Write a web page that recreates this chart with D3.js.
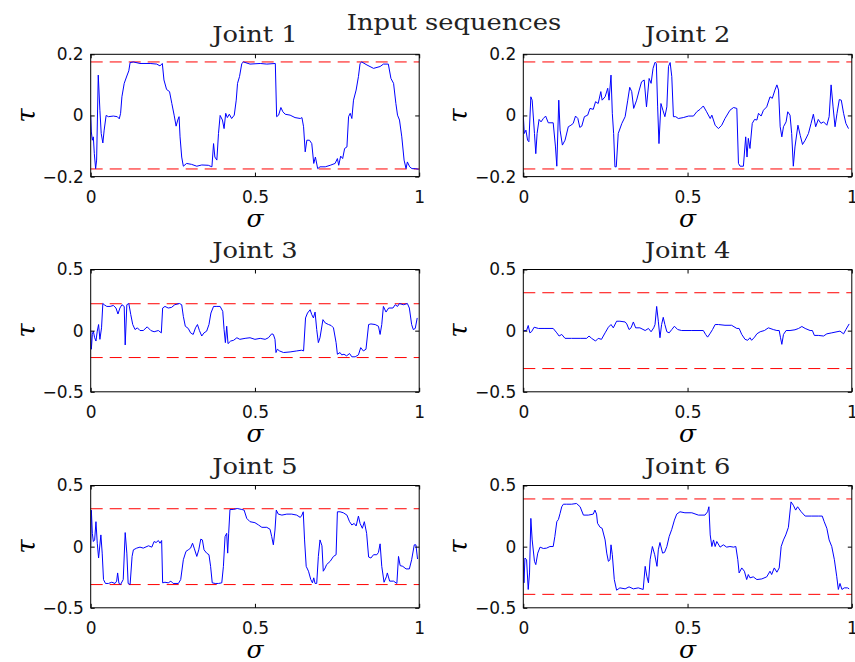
<!DOCTYPE html>
<html>
<head>
<meta charset="utf-8">
<script src="https://cdn.jsdelivr.net/npm/d3@7"></script>
<style>
  body { margin: 0; background: #fff; }
  svg { display: block; }
</style>
</head>
<body>
<svg id="chart"></svg>
<script>
// sampled input torque sequences, [sigma, tau]
const joint1 = [[0,0],[0.002,-0.054],[0.005,-0.081],[0.008,-0.07],[0.011,-0.125],[0.015,-0.174],[0.018,-0.146],[0.023,0.132],[0.028,0.017],[0.032,-0.059],[0.037,-0.09],[0.041,-0.048],[0.047,0],[0.054,-0.004],[0.069,-0.002],[0.081,-0.004],[0.087,-0.011],[0.091,0.007],[0.095,0.061],[0.102,0.105],[0.11,0.129],[0.116,0.146],[0.12,0.173],[0.13,0.175],[0.15,0.17],[0.181,0.17],[0.201,0.168],[0.211,0.162],[0.218,0.17],[0.223,0.116],[0.231,0.085],[0.24,0.078],[0.247,0.039],[0.254,0.001],[0.26,-0.035],[0.265,-0.015],[0.269,-0.004],[0.272,-0.07],[0.277,-0.136],[0.282,-0.166],[0.292,-0.157],[0.307,-0.16],[0.323,-0.166],[0.338,-0.162],[0.358,-0.163],[0.369,-0.168],[0.374,-0.092],[0.378,-0.136],[0.384,-0.146],[0.389,-0.059],[0.394,0],[0.401,-0.015],[0.406,-0.043],[0.411,0.007],[0.416,-0.007],[0.422,0.004],[0.429,-0.01],[0.437,0.001],[0.443,0.05],[0.447,0.105],[0.453,0.127],[0.46,0.17],[0.465,0.175],[0.485,0.168],[0.516,0.17],[0.536,0.168],[0.562,0.17],[0.566,-0.004],[0.572,0.001],[0.579,0.026],[0.585,0.012],[0.592,0.004],[0.607,0.001],[0.622,-0.007],[0.638,-0.01],[0.643,-0.007],[0.648,-0.037],[0.653,-0.119],[0.658,-0.081],[0.666,-0.081],[0.673,-0.092],[0.679,-0.157],[0.684,-0.136],[0.691,-0.174],[0.698,-0.168],[0.714,-0.168],[0.729,-0.163],[0.744,-0.157],[0.751,-0.141],[0.755,-0.163],[0.761,-0.133],[0.767,-0.141],[0.773,-0.108],[0.78,-0.103],[0.785,-0.004],[0.79,0.007],[0.795,-0.01],[0.8,0.05],[0.808,0.083],[0.815,0.127],[0.82,0.17],[0.825,0.175],[0.841,0.165],[0.861,0.154],[0.881,0.16],[0.891,0.168],[0.906,0.168],[0.914,0.121],[0.922,0.105],[0.929,0.039],[0.934,0.001],[0.94,-0.015],[0.947,-0.07],[0.954,-0.146],[0.96,-0.174],[0.964,-0.152],[0.971,-0.168],[0.978,-0.174],[0.988,-0.174],[0.998,-0.176]];

const joint2 = [[0,0],[0.003,-0.059],[0.008,-0.048],[0.013,-0.081],[0.017,-0.086],[0.023,0.061],[0.027,0.05],[0.034,-0.059],[0.038,-0.125],[0.042,-0.059],[0.048,-0.013],[0.054,-0.021],[0.061,-0.01],[0.068,-0.002],[0.076,-0.024],[0.091,-0.024],[0.098,-0.103],[0.102,-0.166],[0.108,0.05],[0.112,-0.048],[0.119,-0.097],[0.127,-0.081],[0.137,-0.037],[0.145,-0.032],[0.152,-0.026],[0.159,-0.002],[0.166,-0.01],[0.172,-0.039],[0.178,-0.035],[0.186,-0.004],[0.196,0.001],[0.203,0.023],[0.213,0.02],[0.22,0.045],[0.228,0.039],[0.236,0.078],[0.24,0.05],[0.249,0.061],[0.257,0.089],[0.261,0.05],[0.267,0.132],[0.271,0.007],[0.275,-0.059],[0.279,-0.168],[0.283,-0.168],[0.289,-0.059],[0.3,-0.026],[0.31,-0.004],[0.318,0.05],[0.324,0.092],[0.33,0.078],[0.336,0.023],[0.345,0.05],[0.353,0.083],[0.36,0.11],[0.368,0.116],[0.375,0.028],[0.383,0.121],[0.389,0.105],[0.395,0.154],[0.401,0.174],[0.405,0.17],[0.409,0.028],[0.413,-0.092],[0.419,0.039],[0.425,0.017],[0.431,-0.004],[0.437,0.028],[0.442,0.16],[0.447,0.173],[0.452,0.127],[0.457,-0.004],[0.464,-0.004],[0.472,-0.01],[0.487,-0.007],[0.503,-0.002],[0.518,-0.002],[0.528,0.012],[0.538,0.02],[0.548,0.031],[0.558,0.012],[0.569,-0.01],[0.574,0.001],[0.584,-0.032],[0.594,-0.043],[0.604,-0.032],[0.614,-0.01],[0.629,0.017],[0.64,0.026],[0.65,0.023],[0.655,-0.157],[0.66,-0.166],[0.67,-0.166],[0.677,-0.07],[0.681,-0.136],[0.685,-0.075],[0.69,-0.108],[0.697,-0.026],[0.704,-0.013],[0.711,-0.015],[0.716,0.007],[0.724,-0.002],[0.731,0.017],[0.741,0.028],[0.751,0.061],[0.758,0.056],[0.766,0.083],[0.772,0.1],[0.777,0.083],[0.782,-0.037],[0.787,-0.07],[0.792,-0.037],[0.8,-0.021],[0.805,0.012],[0.812,0.001],[0.817,-0.059],[0.822,-0.166],[0.827,-0.103],[0.836,-0.032],[0.843,-0.065],[0.85,-0.095],[0.858,-0.081],[0.868,-0.059],[0.876,-0.026],[0.883,0.004],[0.89,-0.037],[0.898,-0.013],[0.906,-0.026],[0.914,-0.021],[0.924,-0.032],[0.931,-0.004],[0.937,0.1],[0.943,0.028],[0.949,-0.037],[0.955,0.007],[0.962,0.052],[0.968,0.05],[0.975,0.007],[0.982,-0.026],[0.99,-0.043]];

const joint3 = [[0,0],[0.002,-0.152],[0.005,-0.031],[0.008,-0.004],[0.012,-0.058],[0.016,-0.085],[0.02,-0.004],[0.024,0.05],[0.028,-0.071],[0.033,0.023],[0.037,0.222],[0.041,0.212],[0.049,0.198],[0.059,0.198],[0.069,0.206],[0.077,0.185],[0.083,0.136],[0.089,0.185],[0.095,0.212],[0.102,0.198],[0.105,-0.117],[0.11,0.212],[0.116,0.222],[0.122,0.131],[0.128,0.05],[0.135,0.009],[0.142,0.023],[0.15,0.001],[0.16,0.001],[0.172,0.031],[0.183,0.001],[0.193,-0.009],[0.206,0.001],[0.215,-0.018],[0.219,0.185],[0.226,0.198],[0.236,0.185],[0.246,0.19],[0.256,0.212],[0.27,0.222],[0.277,0.212],[0.282,0.117],[0.288,0.036],[0.297,0.018],[0.304,-0.018],[0.312,-0.031],[0.319,0.023],[0.325,0.05],[0.331,0.001],[0.338,-0.044],[0.345,-0.018],[0.353,-0.004],[0.36,0.05],[0.366,0.144],[0.374,0.198],[0.384,0.198],[0.394,0.198],[0.402,0.158],[0.406,0.009],[0.41,-0.098],[0.414,0.036],[0.418,-0.106],[0.426,-0.085],[0.435,-0.079],[0.445,-0.058],[0.454,-0.071],[0.47,-0.063],[0.485,-0.058],[0.5,-0.071],[0.516,-0.063],[0.531,-0.071],[0.541,-0.058],[0.551,-0.026],[0.556,-0.031],[0.561,-0.071],[0.564,-0.179],[0.568,-0.152],[0.575,-0.166],[0.587,-0.179],[0.607,-0.174],[0.627,-0.166],[0.642,-0.16],[0.648,-0.166],[0.654,0.104],[0.66,0.144],[0.668,0.171],[0.673,0.131],[0.678,0.104],[0.683,0.152],[0.688,0.009],[0.693,-0.098],[0.698,-0.058],[0.707,0.09],[0.714,0.063],[0.724,0.05],[0.732,0.042],[0.739,0.023],[0.747,-0.098],[0.751,-0.193],[0.759,-0.179],[0.764,-0.198],[0.771,-0.193],[0.779,-0.206],[0.788,-0.187],[0.795,-0.214],[0.805,-0.214],[0.815,-0.198],[0.822,-0.139],[0.83,-0.166],[0.838,-0.152],[0.846,0.05],[0.853,0.055],[0.866,0.05],[0.876,0.036],[0.881,-0.031],[0.886,0.05],[0.891,0.198],[0.899,0.152],[0.907,0.185],[0.92,0.185],[0.927,0.212],[0.934,0.198],[0.94,0.222],[0.952,0.212],[0.964,0.222],[0.97,0.185],[0.977,0.05],[0.982,0.009],[0.988,0.018],[0.994,0.104]];

const joint4 = [[0,0],[0.01,0.001],[0.015,0.042],[0.02,-0.018],[0.025,-0.009],[0.033,0.028],[0.046,0.018],[0.066,0.018],[0.091,0.018],[0.102,-0.018],[0.109,-0.044],[0.117,-0.031],[0.127,-0.063],[0.147,-0.063],[0.173,-0.063],[0.193,-0.063],[0.2,-0.044],[0.208,-0.063],[0.22,-0.085],[0.228,-0.063],[0.238,-0.071],[0.249,-0.018],[0.259,0.028],[0.267,0.05],[0.274,0.023],[0.284,0.077],[0.294,0.077],[0.31,0.071],[0.315,0.055],[0.322,0.009],[0.328,0.023],[0.335,0.071],[0.342,0.023],[0.355,0.023],[0.371,0.001],[0.381,0.018],[0.389,-0.009],[0.397,0.023],[0.401,0.05],[0.406,0.198],[0.411,0.077],[0.416,-0.058],[0.421,0.05],[0.426,0.109],[0.431,0.05],[0.437,-0.009],[0.444,-0.018],[0.452,0.009],[0.46,0.036],[0.47,0.009],[0.482,0.001],[0.513,0.001],[0.548,0.001],[0.555,-0.031],[0.561,-0.053],[0.568,-0.026],[0.576,0.009],[0.584,0.05],[0.594,0.05],[0.614,0.044],[0.634,0.044],[0.65,0.018],[0.657,0.018],[0.665,-0.031],[0.675,-0.071],[0.683,-0.079],[0.69,-0.058],[0.695,-0.079],[0.704,-0.053],[0.711,-0.026],[0.721,-0.009],[0.734,0.001],[0.746,0.023],[0.761,0.009],[0.772,0.001],[0.779,0.001],[0.783,-0.058],[0.787,-0.112],[0.792,-0.031],[0.8,0.001],[0.812,0.001],[0.827,0.007],[0.838,0.018],[0.848,0.034],[0.858,0.018],[0.873,0.001],[0.88,0.001],[0.886,-0.039],[0.898,-0.039],[0.914,-0.044],[0.924,-0.026],[0.939,-0.018],[0.964,-0.004],[0.975,-0.026],[0.982,0.009],[0.992,0.055]];

const joint5 = [[0,0],[0.002,0.298],[0.005,0.109],[0.008,0.042],[0.012,0.055],[0.016,0.204],[0.02,0.028],[0.024,-0.093],[0.031,0.096],[0.035,-0.053],[0.039,-0.269],[0.045,-0.301],[0.054,-0.301],[0.064,-0.291],[0.074,-0.301],[0.079,-0.282],[0.082,-0.215],[0.086,-0.301],[0.091,-0.309],[0.099,-0.269],[0.105,0.115],[0.11,-0.053],[0.114,-0.301],[0.12,-0.309],[0.126,-0.08],[0.13,-0.026],[0.14,-0.012],[0.15,-0.004],[0.16,-0.012],[0.176,0.007],[0.186,-0.004],[0.193,0.042],[0.199,0.034],[0.206,0.05],[0.211,0.028],[0.216,0.05],[0.219,-0.296],[0.226,-0.291],[0.236,-0.296],[0.244,-0.282],[0.251,-0.301],[0.267,-0.301],[0.274,-0.269],[0.282,-0.107],[0.29,-0.039],[0.297,-0.026],[0.304,-0.012],[0.31,0.028],[0.315,-0.012],[0.323,-0.08],[0.329,-0.026],[0.335,0.061],[0.34,0.055],[0.345,-0.026],[0.353,-0.053],[0.36,-0.066],[0.365,-0.161],[0.37,-0.296],[0.379,-0.301],[0.389,-0.301],[0.399,-0.296],[0.404,-0.161],[0.409,0.082],[0.414,0.109],[0.417,-0.053],[0.42,0.109],[0.424,0.304],[0.434,0.304],[0.446,0.312],[0.46,0.304],[0.467,0.299],[0.475,0.231],[0.485,0.204],[0.5,0.196],[0.511,0.177],[0.521,0.158],[0.536,0.158],[0.546,0.142],[0.551,0.082],[0.556,0.015],[0.561,0.136],[0.565,0.299],[0.571,0.266],[0.582,0.258],[0.597,0.266],[0.612,0.266],[0.627,0.258],[0.638,0.239],[0.643,0.258],[0.647,0.285],[0.651,0.055],[0.656,-0.161],[0.663,-0.201],[0.67,-0.269],[0.675,-0.296],[0.679,-0.255],[0.683,-0.301],[0.688,-0.301],[0.693,-0.08],[0.698,0.055],[0.704,0.007],[0.708,-0.201],[0.714,-0.174],[0.718,-0.147],[0.729,-0.12],[0.739,-0.08],[0.747,-0.066],[0.751,0.285],[0.759,0.285],[0.769,0.277],[0.78,0.258],[0.788,0.204],[0.795,0.177],[0.802,0.19],[0.808,0.169],[0.815,0.25],[0.82,0.19],[0.827,0.15],[0.833,0.204],[0.84,0.109],[0.846,-0.085],[0.853,-0.093],[0.861,-0.066],[0.871,-0.066],[0.876,-0.047],[0.881,0.023],[0.886,-0.161],[0.893,-0.291],[0.9,-0.247],[0.903,-0.215],[0.91,-0.282],[0.922,-0.282],[0.932,-0.301],[0.937,-0.08],[0.942,-0.155],[0.95,-0.161],[0.96,-0.182],[0.97,-0.182],[0.977,-0.107],[0.985,0.015],[0.99,0.015],[0.995,-0.101]];

const joint6 = [[0,0],[0.002,-0.296],[0.005,-0.093],[0.01,-0.107],[0.015,-0.35],[0.019,-0.215],[0.023,0.231],[0.027,0.055],[0.034,-0.12],[0.038,-0.147],[0.044,-0.053],[0.051,-0.004],[0.061,-0.015],[0.071,-0.012],[0.081,0.001],[0.091,0.001],[0.096,0.082],[0.102,0.204],[0.107,0.223],[0.112,0.272],[0.117,0.326],[0.122,0.347],[0.132,0.347],[0.147,0.347],[0.162,0.353],[0.173,0.326],[0.183,0.258],[0.198,0.258],[0.213,0.266],[0.218,0.299],[0.223,0.266],[0.226,0.191],[0.234,0.158],[0.24,0.15],[0.249,0.055],[0.254,-0.053],[0.259,-0.12],[0.264,-0.107],[0.267,0.015],[0.271,-0.066],[0.277,-0.269],[0.284,-0.356],[0.294,-0.337],[0.31,-0.345],[0.322,-0.329],[0.335,-0.345],[0.35,-0.337],[0.365,-0.35],[0.371,-0.161],[0.376,-0.242],[0.381,-0.296],[0.386,-0.107],[0.393,0.001],[0.4,-0.066],[0.407,-0.161],[0.411,-0.026],[0.416,0.034],[0.424,-0.053],[0.43,-0.047],[0.437,0.001],[0.444,0.082],[0.452,0.142],[0.46,0.217],[0.467,0.266],[0.477,0.285],[0.492,0.277],[0.513,0.277],[0.533,0.258],[0.553,0.258],[0.561,0.285],[0.565,0.326],[0.569,0.096],[0.574,0.001],[0.579,0.055],[0.584,0.001],[0.589,0.042],[0.599,-0.004],[0.609,0.015],[0.619,-0.004],[0.629,0.001],[0.64,-0.004],[0.647,0.001],[0.653,-0.107],[0.657,-0.215],[0.665,-0.174],[0.673,-0.201],[0.68,-0.269],[0.685,-0.228],[0.69,-0.255],[0.7,-0.247],[0.711,-0.269],[0.726,-0.264],[0.741,-0.247],[0.751,-0.201],[0.756,-0.228],[0.764,-0.174],[0.772,-0.209],[0.779,-0.174],[0.785,0.001],[0.792,0.055],[0.799,0.096],[0.807,0.158],[0.815,0.366],[0.822,0.339],[0.829,0.299],[0.835,0.326],[0.846,0.285],[0.858,0.25],[0.878,0.25],[0.898,0.25],[0.91,0.25],[0.916,0.204],[0.924,0.15],[0.931,0.055],[0.939,0.001],[0.947,-0.107],[0.954,-0.242],[0.959,-0.35],[0.964,-0.301],[0.97,-0.35],[0.977,-0.337],[0.987,-0.337],[0.992,-0.345]];

const titles = ["Joint 1", "Joint 2", "Joint 3", "Joint 4", "Joint 5", "Joint 6"];
const series = [joint1, joint2, joint3, joint4, joint5, joint6];
const limits = [0.175, 0.175, 0.22, 0.31, 0.31, 0.39];   // torque bounds (red dashed)
const yMax = [0.2, 0.2, 0.5, 0.5, 0.5, 0.5];
const xTicks = [0, 0.5, 1];

const width = 855;
const height = 662;
const colLeft = [90.7, 523.3];
const rowTop = [54.3, 269.5, 485.5];
const panelW = 328.5;
const panelH = 122.3;

const svg = d3.select("#chart")
    .attr("width", width)
    .attr("height", height);

const serif = "'DejaVu Serif', serif";
const sans = "'DejaVu Sans', sans-serif";
const stretch = 1.17;   // the original figure is wider than tall in its lettering

svg.append("text")
    .attr("transform", `translate(454,30) scale(${stretch},1)`)
    .attr("text-anchor", "middle")
    .attr("font-family", serif)
    .attr("font-size", 22)
    .attr("fill", "#222")
    .text("Input sequences");

series.forEach((data, i) => {
  const left = colLeft[i % 2];
  const top = rowTop[Math.floor(i / 2)];

  const x = d3.scaleLinear().domain([0, 1]).range([left, left + panelW]);
  const y = d3.scaleLinear().domain([-yMax[i], yMax[i]]).range([top + panelH, top]);
  const yTicks = [-yMax[i], 0, yMax[i]];

  const g = svg.append("g");

  g.append("clipPath").attr("id", "clip" + i)
    .append("rect")
      .attr("x", left).attr("y", top)
      .attr("width", panelW).attr("height", panelH);

  // limits
  g.selectAll("line.lim")
    .data([limits[i], -limits[i]])
    .join("line")
      .attr("class", "lim")
      .attr("x1", x(0)).attr("x2", x(1))
      .attr("y1", d => y(d)).attr("y2", d => y(d))
      .attr("stroke", "#ff0000")
      .attr("stroke-width", 1)
      .attr("stroke-dasharray", "12,7");

  g.append("path")
      .datum(data)
      .attr("clip-path", `url(#clip${i})`)
      .attr("fill", "none")
      .attr("stroke", "#0000ff")
      .attr("stroke-width", 1)
      .attr("stroke-linejoin", "round")
      .attr("d", d3.line().x(d => x(d[0])).y(d => y(d[1])));

  // axes, ticks pointing inward
  const fmt = d => d === 0 ? "0" : String(d).replace("-", "\u2212");

  const xb = g.append("g")
      .attr("transform", `translate(0,${top + panelH})`)
      .call(d3.axisBottom(x).tickValues(xTicks).tickSize(-4).tickPadding(14).tickFormat(fmt));
  const yl = g.append("g")
      .attr("transform", `translate(${left},0)`)
      .call(d3.axisLeft(y).tickValues(yTicks).tickSize(-4).tickPadding(7).tickFormat(fmt));
  g.append("g")
      .attr("transform", `translate(0,${top})`)
      .call(d3.axisTop(x).tickValues(xTicks).tickSize(-4).tickFormat(""));
  g.append("g")
      .attr("transform", `translate(${left + panelW},0)`)
      .call(d3.axisRight(y).tickValues(yTicks).tickSize(-4).tickFormat(""));

  g.selectAll(".domain").remove();
  g.selectAll(".tick line").attr("stroke", "#000");
  [xb, yl].forEach(a => a.selectAll("text")
      .attr("font-family", sans)
      .attr("font-size", 17)
      .attr("fill", "#111"));

  g.append("rect")
      .attr("x", left).attr("y", top)
      .attr("width", panelW).attr("height", panelH)
      .attr("fill", "none")
      .attr("stroke", "#000")
      .attr("stroke-width", 1);

  g.append("text")
      .attr("transform", `translate(${left + panelW / 2},${top - 12}) scale(${stretch},1)`)
      .attr("text-anchor", "middle")
      .attr("font-family", serif)
      .attr("font-size", 22)
      .attr("fill", "#222")
      .text(titles[i]);

  g.append("text")
      .attr("x", left + panelW / 2)
      .attr("y", top + panelH + 50)
      .attr("text-anchor", "middle")
      .attr("font-family", serif)
      .attr("font-style", "italic")
      .attr("font-size", 25)
      .text("σ");

  g.append("text")
      .attr("transform", `translate(${left - 64},${top + panelH / 2}) rotate(-90)`)
      .attr("text-anchor", "middle")
      .attr("dy", "0.3em")
      .attr("font-family", serif)
      .attr("font-style", "italic")
      .attr("font-size", 26)
      .text("τ");
});
</script>
</body>
</html>
